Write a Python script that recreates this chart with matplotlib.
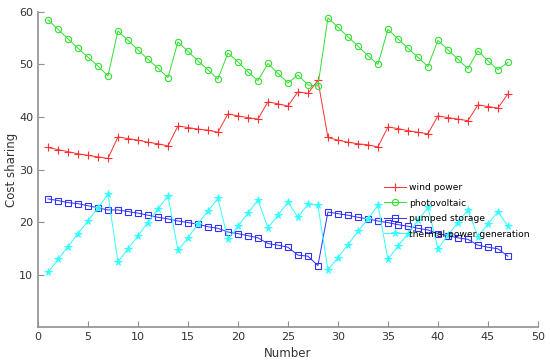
import numpy as np
import matplotlib
matplotlib.use("Agg")
import matplotlib.pyplot as plt

# Data

number = np.arange(1, 48)

wind_power = [34.2, 33.8, 33.4, 33.0, 32.7, 32.4, 32.1,
              36.2, 35.9, 35.6, 35.2, 34.9, 34.5,
              38.3, 38.0, 37.7, 37.5, 37.1,
              40.6, 40.2, 39.9, 39.6,
              42.9, 42.5, 42.1,
              44.8, 44.5, 47.0,
              36.1, 35.6, 35.2, 34.9, 34.7, 34.3,
              38.1, 37.8, 37.4, 37.1, 36.8,
              40.2, 39.9, 39.6, 39.3,
              42.3, 42.0, 41.7,
              44.4]

photovoltaic = [58.5, 56.7, 54.9, 53.1, 51.4, 49.7, 47.8,
                56.4, 54.6, 52.8, 51.0, 49.3, 47.5,
                54.3, 52.5, 50.7, 49.0, 47.2,
                52.2, 50.5, 48.6, 46.9,
                50.2, 48.3, 46.5,
                48.0, 46.1, 45.9,
                58.9, 57.1, 55.3, 53.5, 51.7, 50.0,
                56.7, 54.9, 53.1, 51.4, 49.6,
                54.6, 52.8, 51.0, 49.2,
                52.6, 50.7, 49.0,
                50.4]

pumped_storage = [24.4, 24.1, 23.7, 23.5, 23.1, 22.7, 22.3,
                  22.3, 22.0, 21.7, 21.3, 20.9, 20.6,
                  20.2, 19.9, 19.6, 19.1, 18.8,
                  18.1, 17.8, 17.4, 17.0,
                  15.9, 15.6, 15.2,
                  13.7, 13.5, 11.7,
                  21.9, 21.6, 21.3, 20.9, 20.6, 20.2,
                  19.9, 19.5, 19.2, 18.8, 18.5,
                  17.8, 17.4, 17.0, 16.7,
                  15.6, 15.2, 14.9,
                  13.5]

thermal_power = [10.4, 12.9, 15.3, 17.8, 20.2, 22.7, 25.3,
                 12.4, 14.9, 17.4, 19.9, 22.5, 25.0,
                 14.6, 17.0, 19.6, 22.1, 24.5,
                 16.7, 19.2, 21.7, 24.2,
                 18.9, 21.3, 23.8,
                 20.9, 23.4, 23.2,
                 10.9, 13.2, 15.7, 18.2, 20.6, 23.2,
                 12.9, 15.4, 17.8, 20.3, 22.8,
                 14.9, 17.5, 19.9, 22.3,
                 17.2, 19.6, 22.0,
                 19.2]

# Plot

fig = plt.figure(figsize=(5.5, 3.63), dpi=100)
ax = fig.add_axes([0.069, 0.099, 0.909, 0.868])

ax.plot(number, wind_power, color="#ff3030", marker="+", markersize=5.5, markeredgewidth=0.8,
        linewidth=0.7, label="wind power")
ax.plot(number, photovoltaic, color="#30e030", marker="o", markersize=4.5, markeredgewidth=0.8,
        markerfacecolor="none", linewidth=0.7, label="photovoltaic")
ax.plot(number, pumped_storage, color="#3030ff", marker="s", markersize=3.8, markeredgewidth=0.8,
        markerfacecolor="none", linewidth=0.7, label="pumped storage")
ax.plot(number, thermal_power, color="#30ffff", marker="*", markersize=5.5, markeredgewidth=0.6,
        linewidth=0.7, label="thermal power generation")

ax.set_xlim(0, 50)
ax.set_ylim(0, 60)
ax.set_xticks(range(0, 51, 5))
ax.set_yticks(range(10, 61, 10))

for side in ["top", "right"]:
    ax.spines[side].set_visible(False)
for side in ["left", "bottom"]:
    ax.spines[side].set_color("#909090")
    ax.spines[side].set_linewidth(1.2)

ax.tick_params(direction="in", length=4, colors="#909090", labelcolor="#333333", labelsize=8)

ax.set_xlabel("Number", fontsize=8.5, color="#333333", labelpad=4)
ax.set_ylabel("Cost sharing", fontsize=8.5, color="#333333", labelpad=1)

ax.legend(loc="upper left", bbox_to_anchor=(0.685, 0.468), frameon=False, fontsize=6.6,
          handlelength=2.4, handletextpad=0.3, labelspacing=0.7, borderaxespad=0)

fig.savefig("out.png", dpi=100)
